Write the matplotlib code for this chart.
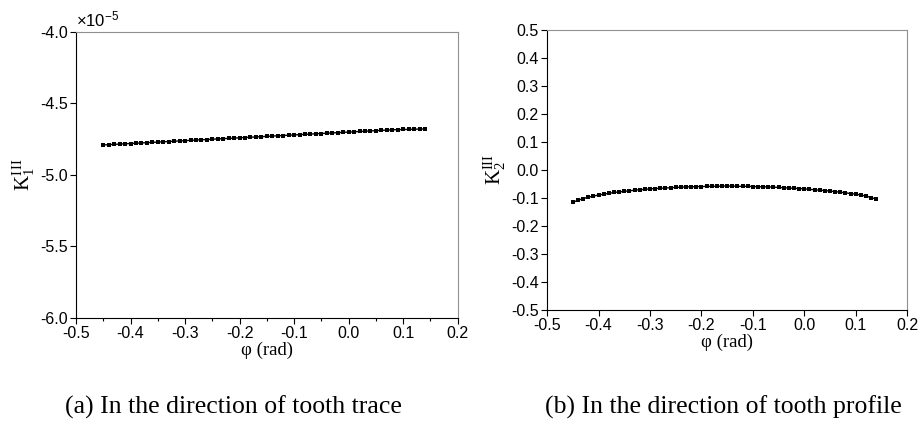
import matplotlib
matplotlib.use("Agg")
import matplotlib.pyplot as plt
from matplotlib.ticker import MultipleLocator

plt.rcParams['font.family'] = ['Liberation Sans', 'DejaVu Sans']
plt.rcParams['mathtext.fontset'] = 'custom'
plt.rcParams['mathtext.rm'] = 'Liberation Serif'
plt.rcParams['mathtext.sf'] = 'Liberation Sans'
plt.rcParams['mathtext.it'] = 'Liberation Serif:italic'
plt.rcParams['axes.unicode_minus'] = False

# phi (rad), same grid for both curves
phi = [-0.45, -0.44, -0.43, -0.42, -0.41, -0.40, -0.39, -0.38, -0.37, -0.36,
       -0.35, -0.34, -0.33, -0.32, -0.31, -0.30, -0.29, -0.28, -0.27, -0.26,
       -0.25, -0.24, -0.23, -0.22, -0.21, -0.20, -0.19, -0.18, -0.17, -0.16,
       -0.15, -0.14, -0.13, -0.12, -0.11, -0.10, -0.09, -0.08, -0.07, -0.06,
       -0.05, -0.04, -0.03, -0.02, -0.01, 0.00, 0.01, 0.02, 0.03, 0.04,
       0.05, 0.06, 0.07, 0.08, 0.09, 0.10, 0.11, 0.12, 0.13, 0.14]

# K1 (units of 1e-5)
k1_e5 = [-4.790, -4.788, -4.786, -4.784, -4.782, -4.780, -4.778, -4.776, -4.774, -4.772,
         -4.770, -4.768, -4.766, -4.764, -4.762, -4.760, -4.758, -4.756, -4.754, -4.752,
         -4.750, -4.748, -4.746, -4.744, -4.742, -4.740, -4.738, -4.736, -4.734, -4.732,
         -4.730, -4.728, -4.726, -4.724, -4.722, -4.720, -4.718, -4.716, -4.714, -4.712,
         -4.710, -4.708, -4.706, -4.704, -4.702, -4.700, -4.698, -4.696, -4.694, -4.692,
         -4.690, -4.688, -4.686, -4.684, -4.683, -4.682, -4.681, -4.680, -4.679, -4.678]

k2 = [-0.115, -0.108, -0.102, -0.097, -0.093, -0.089, -0.086, -0.083, -0.080, -0.078,
      -0.076, -0.074, -0.072, -0.070, -0.069, -0.067, -0.066, -0.065, -0.064, -0.063,
      -0.062, -0.061, -0.060, -0.060, -0.059, -0.059, -0.058, -0.058, -0.058, -0.057,
      -0.057, -0.057, -0.058, -0.058, -0.058, -0.059, -0.059, -0.060, -0.060, -0.061,
      -0.062, -0.063, -0.064, -0.065, -0.066, -0.067, -0.069, -0.070, -0.072, -0.073,
      -0.075, -0.077, -0.079, -0.081, -0.084, -0.086, -0.089, -0.093, -0.098, -0.104]

fig = plt.figure(figsize=(9.21, 4.26), dpi=100)
ax1 = fig.add_axes([0.0825, 0.2535, 0.4145, 0.6715])
ax2 = fig.add_axes([0.594, 0.272, 0.391, 0.6575])

serif = ['Liberation Serif', 'DejaVu Serif']

for ax in (ax1, ax2):
    ax.set_xlim(-0.5, 0.2)
    ax.xaxis.set_major_locator(MultipleLocator(0.1))
    ax.xaxis.set_major_formatter(plt.FuncFormatter(lambda v, p: '%.1f' % v))
    ax.yaxis.set_major_formatter(plt.FuncFormatter(lambda v, p: '%.1f' % v))
    ax.tick_params(direction='out', labelsize=11.5, length=4, width=0.8, pad=2,
                   top=False, right=False)
    ax.spines['top'].set_color('#909090')
    ax.spines['right'].set_color('#909090')
    ax.set_xlabel('\u03c6 (rad)', family=serif, fontsize=13.5, labelpad=0)

ax1.plot(phi, k1_e5, '-s', color='black', ms=2.6, mew=0, lw=1.0)
ax1.set_ylim(-6.0, -4.0)
ax1.yaxis.set_major_locator(MultipleLocator(0.5))
ax1.xaxis.set_minor_locator(MultipleLocator(0.05))
ax1.tick_params(which='minor', direction='out', length=2.5, width=0.8)
ax1.set_ylabel(r'$\mathrm{K}_1^{\mathrm{I\,II}}$', fontsize=15, labelpad=2)
ax1.text(0.0, 1.01, r'$\mathsf{\times10^{-5}}$', transform=ax1.transAxes,
         fontsize=12, va='bottom', ha='left')

ax2.plot(phi, k2, '-s', color='black', ms=2.6, mew=0, lw=1.0)
ax2.set_ylim(-0.5, 0.5)
ax2.yaxis.set_major_locator(MultipleLocator(0.1))
ax2.set_ylabel(r'$\mathrm{K}_2^{\mathrm{III}}$', fontsize=15, labelpad=2)

fig.text(0.253, 0.028, '(a) In the direction of tooth trace', family=serif,
         fontsize=18.5, ha='center')
fig.text(0.785, 0.028, '(b) In the direction of tooth profile', family=serif,
         fontsize=18.5, ha='center')

fig.savefig('out.png', dpi=100)
